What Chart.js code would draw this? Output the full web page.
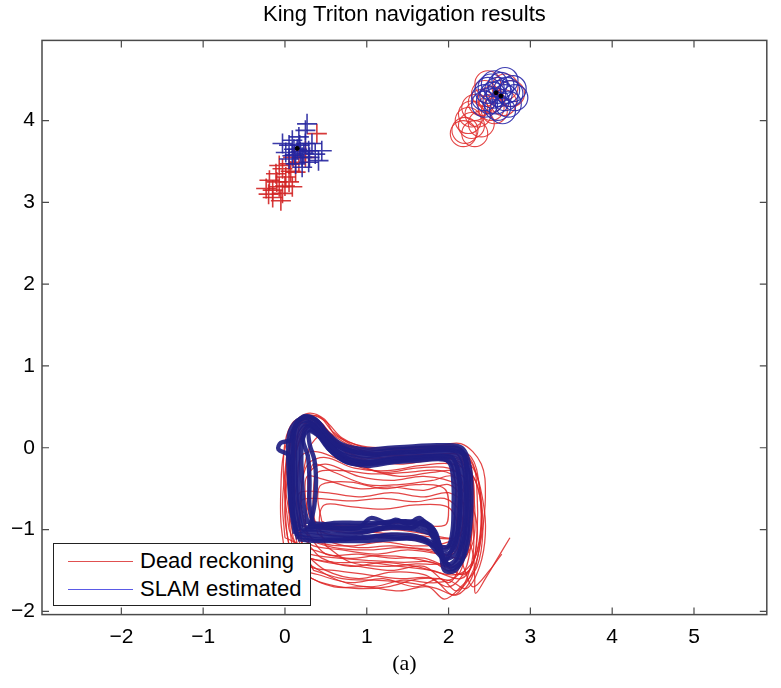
<!DOCTYPE html>
<html>
<head>
<meta charset="utf-8">
<script src="https://cdn.jsdelivr.net/npm/chart.js@4.4.1/dist/chart.umd.min.js"></script>
<style>
  html, body { margin: 0; padding: 0; background: #fff; }
  #wrap { position: relative; width: 781px; height: 688px; }
  #legend { position: absolute; left: 53px; top: 543px; width: 256px; height: 61px;
            border: 1px solid #222; background: #fff; font-family: "Liberation Sans", Arial, sans-serif; font-size: 22px; color: #000; }
  .lg-line { position: absolute; left: 14px; width: 65px; height: 0; border-top: 1px solid; }
  .lg-text { position: absolute; left: 86px; line-height: 24px; white-space: nowrap; }
</style>
</head>
<body>
<div id="wrap">
  <canvas id="c" width="781" height="688"></canvas>
  <div id="legend">
    <div class="lg-line" style="top:17px;border-color:#e05050"></div>
    <div class="lg-text" style="top:5px">Dead reckoning</div>
    <div class="lg-line" style="top:45px;border-color:#5a5ae6"></div>
    <div class="lg-text" style="top:33px">SLAM estimated</div>
  </div>
</div>
<script>
// ---------- axis data ----------
const xTicks = [-2, -1, 0, 1, 2, 3, 4, 5];
const yTicks = [-2, -1, 0, 1, 2, 3, 4];
const xLimits = [-2.97, 5.89];
const yLimits = [-2.04, 4.98];

// ---------- Dead reckoning trajectories (x, y) ----------
const drTrackA = [[0.05,-1.0],[0.0,-0.6],[-0.02,-0.2],[0.02,0.15],[0.15,0.35],[0.35,0.3],[0.55,0.08],[0.9,-0.05],[1.3,-0.05],[1.7,-0.02],[2.1,0.0],[2.3,-0.2],[2.35,-0.6],[2.35,-1.0],[2.3,-1.4],[2.15,-1.6],[1.8,-1.5],[1.4,-1.45],[1.0,-1.4],[0.6,-1.4],[0.2,-1.3],[0.05,-1.0]];
const drTrackB = [[0.35,-0.95],[0.3,-0.7],[0.3,-0.4],[0.35,-0.2],[0.6,-0.3],[1.0,-0.45],[1.4,-0.45],[1.8,-0.4],[2.05,-0.35],[2.1,-0.6],[2.1,-0.9],[2.05,-1.2],[1.7,-1.15],[1.3,-1.1],[0.9,-1.1],[0.5,-1.05],[0.35,-0.95]];
const drTrackC = [[0.2,-1.1],[0.15,-0.8],[0.18,-0.55],[0.5,-0.55],[0.9,-0.6],[1.3,-0.55],[1.7,-0.6],[2.0,-0.55],[2.2,-0.7],[2.25,-1.0],[2.2,-1.35],[1.9,-1.3],[1.5,-1.25],[1.1,-1.3],[0.7,-1.25],[0.35,-1.2],[0.2,-1.1]];
const drTrackD = [[0.1,-0.9],[0.05,-0.5],[0.05,-0.1],[0.1,0.2],[0.25,0.38],[0.45,0.3],[0.6,0.1],[0.9,-0.02],[1.3,-0.08],[1.7,-0.05],[2.05,-0.05],[2.2,-0.25],[2.25,-0.6],[2.2,-0.95],[2.0,-1.15],[1.6,-1.2],[1.2,-1.15],[0.8,-1.2],[0.4,-1.15],[0.1,-0.9]];
const drTrackE = [[0.15,-1.2],[0.1,-0.8],[0.15,-0.4],[0.2,-0.1],[0.4,-0.05],[0.8,-0.2],[1.2,-0.3],[1.6,-0.25],[2.0,-0.25],[2.25,-0.45],[2.3,-0.9],[2.3,-1.3],[2.2,-1.65],[2.05,-1.8],[1.8,-1.6],[1.4,-1.6],[1.0,-1.55],[0.6,-1.5],[0.3,-1.45],[0.15,-1.2]];
const drTrackF = [[2.2,-1.0],[2.3,-1.3],[2.32,-1.6],[2.33,-1.78],[2.45,-1.6],[2.6,-1.35],[2.75,-1.1]];
const drTrackG = [[0.0,-1.3],[-0.05,-0.9],[-0.05,-0.5],[-0.02,-0.1],[0.1,0.25],[0.3,0.4],[0.5,0.32],[0.7,0.12],[1.0,0.0],[1.4,-0.02],[1.8,0.0],[2.15,0.05],[2.4,-0.2],[2.45,-0.6],[2.4,-1.1],[2.3,-1.5],[2.1,-1.75],[1.9,-1.6],[1.6,-1.7],[1.2,-1.6],[0.8,-1.65],[0.4,-1.55],[0.1,-1.45],[0.0,-1.3]];
const drTrackH = [[0.25,-1.0],[0.2,-0.7],[0.22,-0.35],[0.3,0.0],[0.45,0.15],[0.65,0.0],[1.0,-0.15],[1.4,-0.2],[1.8,-0.15],[2.15,-0.15],[2.3,-0.4],[2.3,-0.8],[2.25,-1.2],[2.05,-1.45],[1.7,-1.35],[1.3,-1.35],[0.9,-1.3],[0.5,-1.3],[0.25,-1.0]];
const drTrackI = [[0.45,-0.9],[0.4,-0.6],[0.45,-0.45],[0.8,-0.42],[1.2,-0.5],[1.6,-0.45],[1.95,-0.5],[2.0,-0.75],[1.95,-0.95],[1.5,-0.92],[1.0,-0.95],[0.6,-0.95],[0.45,-0.9]];
const drTrackJ = [[0.1,-1.1],[0.05,-0.7],[0.1,-0.3],[0.15,0.1],[0.2,0.3],[0.4,0.2],[0.6,-0.05],[1.0,-0.25],[1.4,-0.35],[1.8,-0.3],[2.1,-0.3],[2.2,-0.6],[2.2,-1.0],[2.15,-1.4],[2.0,-1.65],[1.7,-1.45],[1.3,-1.5],[0.9,-1.45],[0.5,-1.4],[0.2,-1.3],[0.1,-1.1]];
const drTrackK = [[0.3,-1.2],[0.25,-0.9],[0.28,-0.6],[0.3,-0.3],[0.5,-0.2],[0.9,-0.35],[1.3,-0.4],[1.7,-0.35],[2.1,-0.45],[2.3,-0.75],[2.35,-1.1],[2.25,-1.5],[2.0,-1.55],[1.6,-1.45],[1.2,-1.4],[0.8,-1.45],[0.45,-1.35],[0.3,-1.2]];
const drTrackL = [[0.05,-0.8],[0.0,-0.4],[0.05,0.0],[0.12,0.3],[0.28,0.42],[0.48,0.35],[0.62,0.15],[0.95,0.02],[1.35,0.0],[1.75,0.02],[2.1,0.02],[2.25,-0.15],[2.3,-0.5],[2.25,-0.9],[2.1,-1.1],[1.7,-1.05],[1.3,-1.0],[0.9,-1.05],[0.5,-1.0],[0.2,-0.95],[0.05,-0.8]];
const drTrackM = [[2.1,-1.2],[2.2,-1.5],[2.3,-1.7],[2.5,-1.5],[2.65,-1.3]];
const drTrackN = [[0.2,-1.25],[0.12,-0.9],[0.1,-0.5],[0.12,-0.15],[0.22,0.2],[0.38,0.3],[0.55,0.15],[0.8,-0.1],[1.2,-0.18],[1.6,-0.15],[2.0,-0.12],[2.2,-0.3],[2.28,-0.7],[2.28,-1.1],[2.2,-1.5],[2.0,-1.7],[1.7,-1.55],[1.3,-1.52],[0.9,-1.6],[0.5,-1.5],[0.2,-1.25]];
const drTrackO = [[0.4,-1.05],[0.35,-0.8],[0.35,-0.5],[0.4,-0.3],[0.7,-0.28],[1.1,-0.32],[1.5,-0.3],[1.9,-0.28],[2.12,-0.4],[2.18,-0.7],[2.15,-1.05],[2.05,-1.3],[1.7,-1.25],[1.3,-1.2],[0.9,-1.22],[0.55,-1.15],[0.4,-1.05]];
const drTrackP = [[0.0,-1.1],[-0.03,-0.7],[0.0,-0.3],[0.05,0.05],[0.18,0.3],[0.32,0.35],[0.5,0.22],[0.75,0.05],[1.1,-0.08],[1.5,-0.1],[1.9,-0.08],[2.2,-0.1],[2.35,-0.35],[2.4,-0.8],[2.35,-1.25],[2.2,-1.55],[1.95,-1.45],[1.55,-1.35],[1.15,-1.32],[0.75,-1.35],[0.35,-1.25],[0.0,-1.1]];
const drTrackQ = [[0.25,-1.4],[0.18,-1.0],[0.2,-0.65],[0.35,-0.62],[0.8,-0.65],[1.2,-0.62],[1.6,-0.66],[1.95,-0.62],[2.15,-0.8],[2.2,-1.2],[2.12,-1.55],[1.85,-1.65],[1.45,-1.62],[1.05,-1.7],[0.65,-1.62],[0.25,-1.4]];
const drTrackR = [[0.12,-0.95],[0.08,-0.6],[0.1,-0.25],[0.15,0.1],[0.3,0.3],[0.48,0.25],[0.62,0.05],[0.95,-0.12],[1.35,-0.12],[1.75,-0.1],[2.1,-0.08],[2.26,-0.3],[2.32,-0.75],[2.3,-1.15],[2.15,-1.35],[1.8,-1.25],[1.4,-1.22],[1.0,-1.25],[0.6,-1.22],[0.25,-1.1],[0.12,-0.95]];
const drTrackS = [[0.3,-0.85],[0.25,-0.6],[0.27,-0.35],[0.45,-0.38],[0.9,-0.5],[1.3,-0.48],[1.7,-0.52],[2.0,-0.45],[2.15,-0.6],[2.18,-0.9],[2.1,-1.1],[1.7,-1.08],[1.3,-1.05],[0.9,-1.02],[0.5,-0.98],[0.3,-0.85]];
const drTrackT = [[0.08,-1.35],[0.02,-1.0],[0.0,-0.6],[0.03,-0.2],[0.1,0.15],[0.25,0.36],[0.42,0.38],[0.58,0.2],[0.85,0.02],[1.25,-0.04],[1.65,0.0],[2.0,0.0],[2.28,-0.12],[2.38,-0.5],[2.42,-1.0],[2.35,-1.45],[2.15,-1.7],[1.95,-1.85],[1.75,-1.7],[1.4,-1.75],[1.0,-1.7],[0.6,-1.7],[0.25,-1.55],[0.08,-1.35]];
const drTrackU = [[0.35,-1.5],[0.22,-1.2],[0.18,-0.85],[0.2,-0.5],[0.28,-0.2],[0.5,-0.12],[0.85,-0.25],[1.25,-0.28],[1.65,-0.22],[2.05,-0.2],[2.3,-0.35],[2.4,-0.75],[2.38,-1.2],[2.28,-1.6],[2.1,-1.8],[1.85,-1.72],[1.5,-1.65],[1.1,-1.62],[0.7,-1.6],[0.35,-1.5]];
const drTrackV = [[0.05,-1.2],[0.0,-0.85],[0.02,-0.45],[0.08,-0.05],[0.2,0.25],[0.36,0.33],[0.52,0.2],[0.72,0.02],[1.05,-0.1],[1.45,-0.14],[1.85,-0.12],[2.18,-0.2],[2.36,-0.5],[2.4,-0.95],[2.32,-1.35],[2.1,-1.55],[1.8,-1.4],[1.45,-1.4],[1.05,-1.38],[0.65,-1.35],[0.3,-1.3],[0.05,-1.2]];
const drTrackW = [[0.5,-1.2],[0.42,-0.95],[0.48,-0.7],[0.8,-0.72],[1.2,-0.75],[1.6,-0.7],[1.98,-0.72],[2.1,-0.9],[2.1,-1.15],[1.95,-1.4],[1.6,-1.42],[1.2,-1.45],[0.8,-1.4],[0.5,-1.2]];
const drTrackX = [[0.15,-1.5],[0.08,-1.15],[0.05,-0.75],[0.08,-0.35],[0.15,0.0],[0.28,0.25],[0.45,0.28],[0.62,0.1],[0.9,-0.05],[1.3,-0.1],[1.7,-0.08],[2.05,-0.1],[2.3,-0.25],[2.42,-0.65],[2.45,-1.05],[2.38,-1.45],[2.22,-1.72],[2.0,-1.62],[1.65,-1.6],[1.25,-1.7],[0.85,-1.72],[0.45,-1.65],[0.15,-1.5]];

// ---------- SLAM estimated trajectories (x, y) ----------
const slamTrackA = [[0.2,-1.0],[0.15,-0.7],[0.13,-0.4],[0.12,-0.1],[0.14,0.18],[0.25,0.3],[0.38,0.24],[0.5,0.08],[0.7,-0.08],[1.0,-0.14],[1.3,-0.1],[1.6,-0.08],[1.9,-0.06],[2.1,-0.1],[2.17,-0.35],[2.17,-0.7],[2.15,-1.0],[2.08,-1.3],[1.95,-1.35],[1.85,-1.1],[1.6,-1.0],[1.3,-0.98],[1.0,-1.02],[0.7,-1.02],[0.4,-1.0],[0.2,-1.0]];
const slamTrackB = [[0.12,-1.05],[0.07,-0.7],[0.05,-0.4],[0.04,-0.1],[0.06,0.2],[0.2,0.36],[0.35,0.32],[0.48,0.16],[0.68,0.0],[1.0,-0.06],[1.3,-0.03],[1.6,-0.01],[1.9,0.0],[2.15,-0.03],[2.24,-0.3],[2.25,-0.7],[2.23,-1.05],[2.15,-1.4],[2.0,-1.48],[1.85,-1.2],[1.6,-1.08],[1.3,-1.06],[1.0,-1.1],[0.7,-1.1],[0.4,-1.08],[0.12,-1.05]];
const slamTrackC = [[0.28,-0.93],[0.23,-0.7],[0.21,-0.4],[0.2,-0.1],[0.22,0.12],[0.3,0.22],[0.4,0.16],[0.52,0.0],[0.72,-0.16],[1.0,-0.22],[1.3,-0.18],[1.6,-0.16],[1.9,-0.14],[2.03,-0.18],[2.1,-0.4],[2.1,-0.7],[2.08,-0.95],[2.02,-1.2],[1.92,-1.25],[1.82,-1.0],[1.6,-0.92],[1.3,-0.9],[1.0,-0.95],[0.7,-0.95],[0.4,-0.93],[0.28,-0.93]];
const slamTrackD = [[0.18,-1.02],[0.11,-0.7],[0.09,-0.4],[0.08,-0.1],[0.1,0.2],[0.22,0.33],[0.36,0.28],[0.49,0.12],[0.69,-0.04],[1.0,-0.1],[1.3,-0.06],[1.6,-0.05],[1.9,-0.03],[2.12,-0.06],[2.2,-0.32],[2.21,-0.7],[2.19,-1.02],[2.1,-1.35],[1.98,-1.42],[1.8,-1.05],[1.65,-0.86],[1.5,-0.93],[1.35,-0.88],[1.2,-0.97],[0.9,-1.05],[0.6,-1.06],[0.35,-1.03],[0.18,-1.02]];
const slamTrackE = [[0.35,-0.95],[0.3,-0.7],[0.3,-0.4],[0.28,-0.1],[0.22,0.1],[0.28,0.26],[0.42,0.2],[0.55,0.04],[0.75,-0.12],[1.0,-0.18],[1.3,-0.14],[1.6,-0.12],[1.9,-0.1],[2.06,-0.14],[2.13,-0.38],[2.14,-0.7],[2.12,-1.0],[2.05,-1.25],[1.9,-1.3],[1.75,-1.0],[1.5,-0.95],[1.2,-0.98],[0.9,-0.98],[0.6,-0.98],[0.35,-0.95]];
const slamTrackF = [[0.15,-1.08],[0.08,-0.75],[0.06,-0.4],[0.05,-0.1],[-0.08,-0.02],[-0.05,0.06],[0.08,0.1],[0.14,0.3],[0.28,0.38],[0.42,0.3],[0.55,0.12],[0.75,-0.02],[1.05,-0.08],[1.35,-0.06],[1.65,-0.04],[1.95,-0.02],[2.18,-0.08],[2.22,-0.4],[2.22,-0.8],[2.18,-1.15],[2.05,-1.45],[1.88,-1.3],[1.7,-1.12],[1.4,-1.1],[1.1,-1.08],[0.7,-1.12],[0.4,-1.12],[0.15,-1.08]];
const slamTrackG = [[0.24,-0.97],[0.18,-0.7],[0.16,-0.4],[0.16,-0.1],[0.18,0.16],[0.27,0.27],[0.39,0.2],[0.51,0.04],[0.71,-0.12],[1.0,-0.18],[1.3,-0.14],[1.6,-0.12],[1.9,-0.1],[2.06,-0.13],[2.13,-0.37],[2.14,-0.7],[2.12,-0.98],[2.04,-1.25],[1.94,-1.38],[1.84,-1.08],[1.7,-0.9],[1.55,-0.98],[1.3,-0.95],[1.05,-0.86],[0.9,-0.98],[0.6,-0.98],[0.24,-0.97]];
const slamTrackH = [[0.3,-0.98],[0.36,-0.7],[0.38,-0.4],[0.36,-0.15],[0.3,0.05],[0.3,0.2],[0.44,0.12],[0.56,-0.04],[0.76,-0.18],[1.0,-0.2],[1.3,-0.17],[1.6,-0.14],[1.9,-0.13],[2.02,-0.2],[2.06,-0.45],[2.06,-0.75],[2.05,-1.0],[2.0,-1.2],[1.9,-1.2],[1.78,-0.95],[1.5,-0.9],[1.2,-0.92],[0.9,-0.92],[0.6,-0.92],[0.3,-0.98]];
const slamTrackI = [[0.16,-1.12],[0.1,-0.8],[0.1,-0.45],[0.1,-0.15],[0.12,0.22],[0.22,0.38],[0.37,0.35],[0.5,0.2],[0.7,0.04],[1.0,-0.02],[1.3,0.0],[1.6,0.02],[1.9,0.03],[2.16,0.0],[2.26,-0.25],[2.28,-0.65],[2.26,-1.0],[2.2,-1.3],[2.08,-1.5],[1.95,-1.5],[1.88,-1.25],[1.6,-1.12],[1.3,-1.12],[1.0,-1.14],[0.7,-1.14],[0.4,-1.14],[0.16,-1.12]];

// ---------- landmark estimates ----------
const drCrosses = [[-0.15,3.15],[-0.07,3.19],[-0.19,3.27],[-0.11,3.35],[-0.03,3.41],[0.05,3.47],[-0.07,3.45],[0.01,3.31],[0.09,3.19],[-0.15,3.06],[-0.03,3.11],[0.05,3.25],[0.13,3.37],[0.17,3.49],[0.25,3.55],[0.39,3.84],[0.25,3.63],[-0.23,3.17],[-0.05,3.02],[0.1,3.55],[-0.1,3.25],[0.0,3.2],[-0.2,3.1],[0.07,3.38]];
const slamCrosses = [[0.15,3.65],[0.05,3.70],[0.25,3.72],[0.09,3.57],[0.21,3.55],[0.29,3.63],[0.01,3.61],[0.17,3.80],[0.25,3.88],[0.37,3.59],[0.41,3.51],[-0.03,3.72],[0.13,3.47],[0.21,3.43],[0.29,3.49],[0.09,3.76],[0.33,3.72],[0.05,3.53],[0.19,3.62],[0.11,3.65],[0.27,3.96],[0.45,3.63],[0.18,3.7],[0.23,3.6],[0.12,3.58],[0.3,3.55]];
const drCircles = [[2.20,3.88],[2.28,3.94],[2.24,4.0],[2.36,4.08],[2.32,4.16],[2.40,4.22],[2.44,4.33],[2.48,4.45],[2.69,4.41],[2.77,4.33],[2.56,4.12],[2.52,4.16],[2.18,3.84],[2.32,3.84],[2.40,3.96],[2.28,4.08],[2.52,4.26],[2.67,4.22]];
const slamCircles = [[2.56,4.45],[2.69,4.49],[2.79,4.39],[2.81,4.28],[2.73,4.20],[2.60,4.16],[2.50,4.24],[2.48,4.37],[2.62,4.33],[2.69,4.28],[2.54,4.31],[2.64,4.43],[2.75,4.33],[2.58,4.24],[2.44,4.28],[2.66,4.12],[2.52,4.41],[2.71,4.37],[2.60,4.37],[2.44,4.20]];
const trueLandmarks = [[0.15,3.66],[2.58,4.34],[2.64,4.30]];

const drTracks = [drTrackA, drTrackB, drTrackC, drTrackD, drTrackE, drTrackF, drTrackG, drTrackH, drTrackI, drTrackJ,
                  drTrackK, drTrackL, drTrackM, drTrackN, drTrackO, drTrackP, drTrackQ, drTrackR, drTrackS, drTrackT,
                  drTrackU, drTrackV, drTrackW, drTrackX];
const slamTracks = [slamTrackA, slamTrackB, slamTrackC, slamTrackD, slamTrackE, slamTrackF, slamTrackG, slamTrackH, slamTrackI];

const toXY = arr => arr.map(([x, y]) => ({ x, y }));
const FONT = '"Liberation Sans", Arial, Helvetica, sans-serif';
const RED = 'rgba(222,38,38,0.85)';
const NAVY = 'rgba(30,30,130,0.92)';

const datasets = [];
datasets.push({ data: toXY(trueLandmarks), pointRadius: 2, pointBackgroundColor: '#000', pointBorderColor: '#000', showLine: false, order: 0 });
datasets.push({ data: toXY(slamCrosses), pointStyle: 'cross', pointRadius: 10, pointBorderColor: 'rgba(38,38,160,0.9)', pointBorderWidth: 1.6, showLine: false, order: 1 });
datasets.push({ data: toXY(slamCircles), pointStyle: 'circle', pointRadius: 13, pointBackgroundColor: 'rgba(0,0,0,0)', pointBorderColor: 'rgba(42,42,170,0.9)', pointBorderWidth: 1.2, showLine: false, order: 1 });
slamTracks.forEach(t => datasets.push({ data: toXY(t), showLine: true, borderColor: NAVY, borderWidth: 4.4, pointRadius: 0, tension: 0.35, fill: false, order: 2 }));
datasets.push({ data: toXY(drCrosses), pointStyle: 'cross', pointRadius: 10, pointBorderColor: 'rgba(210,35,35,0.9)', pointBorderWidth: 1.6, showLine: false, order: 3 });
datasets.push({ data: toXY(drCircles), pointStyle: 'circle', pointRadius: 13, pointBackgroundColor: 'rgba(0,0,0,0)', pointBorderColor: 'rgba(225,50,50,0.9)', pointBorderWidth: 1.1, showLine: false, order: 3 });
drTracks.forEach(t => datasets.push({ data: toXY(t), showLine: true, borderColor: RED, borderWidth: 1.25, pointRadius: 0, tension: 0.35, fill: false, order: 4 }));

const fmt = v => (v < 0 ? '\u2212' + Math.abs(v) : String(v));

const boxTicks = {
  id: 'boxTicks',
  afterDatasetsDraw(chart) {
    const { ctx, chartArea: a, scales } = chart;
    ctx.save();
    ctx.strokeStyle = '#4a4a4a';
    ctx.lineWidth = 1.5;
    ctx.strokeRect(a.left, a.top, a.right - a.left, a.bottom - a.top);
    ctx.lineWidth = 1.2;
    const L = 7;
    ctx.beginPath();
    xTicks.forEach(v => {
      const px = scales.x.getPixelForValue(v);
      ctx.moveTo(px, a.bottom); ctx.lineTo(px, a.bottom - L);
      ctx.moveTo(px, a.top); ctx.lineTo(px, a.top + L);
    });
    yTicks.forEach(v => {
      const py = scales.y.getPixelForValue(v);
      ctx.moveTo(a.left, py); ctx.lineTo(a.left + L, py);
      ctx.moveTo(a.right, py); ctx.lineTo(a.right - L, py);
    });
    ctx.stroke();
    ctx.restore();
  }
};

new Chart(document.getElementById('c'), {
  type: 'scatter',
  data: { datasets },
  options: {
    responsive: false,
    devicePixelRatio: 1,
    animation: false,
    layout: { padding: { left: 0, right: 11, top: 0, bottom: 0 } },
    plugins: {
      legend: { display: false },
      tooltip: { enabled: false },
      title: { display: true, text: 'King Triton navigation results', fullSize: false, color: '#000',
               font: { family: FONT, size: 22, weight: 'normal' }, padding: { top: 2, bottom: 12 } },
      subtitle: { display: true, position: 'bottom', text: '(a)', fullSize: false, color: '#000',
                  font: { family: '"Liberation Serif", "DejaVu Serif", serif', size: 22, weight: 'normal' }, padding: { top: 0, bottom: 11 } }
    },
    scales: {
      x: {
        type: 'linear', min: xLimits[0], max: xLimits[1],
        afterBuildTicks: s => { s.ticks = xTicks.map(v => ({ value: v })); },
        afterFit: s => { s.height = 36; },
        grid: { display: false, drawTicks: false },
        border: { display: false },
        ticks: { color: '#000', font: { family: FONT, size: 21 }, padding: 10, maxRotation: 0, autoSkip: false, callback: v => fmt(v) }
      },
      y: {
        type: 'linear', min: yLimits[0], max: yLimits[1],
        afterBuildTicks: s => { s.ticks = yTicks.map(v => ({ value: v })); },
        afterFit: s => { s.width = 42; },
        grid: { display: false, drawTicks: false },
        border: { display: false },
        ticks: { color: '#000', font: { family: FONT, size: 21 }, padding: 7, autoSkip: false, callback: v => fmt(v) }
      }
    }
  },
  plugins: [boxTicks]
});
</script>
</body>
</html>
